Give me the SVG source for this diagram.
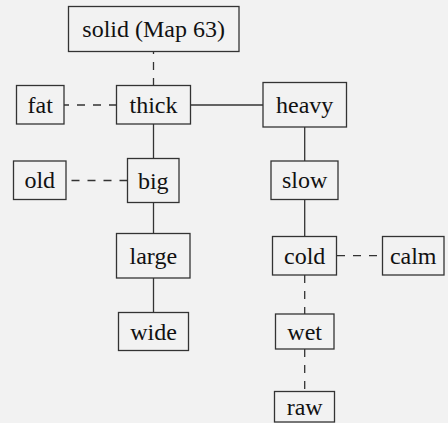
<svg xmlns="http://www.w3.org/2000/svg" width="448" height="423" viewBox="0 0 448 423">
<style>
.n rect{fill:#f2f2f2;stroke:#333;stroke-width:1.3}
.n text{font-family:"Liberation Serif",serif;font-size:24px;fill:#111;text-anchor:middle}
.e line{stroke:#333;stroke-width:1.3}
.e .d{stroke-dasharray:8 8}
</style>
<rect width="448" height="423" fill="#f2f2f2"/>
<g id="edges" class="e">
<line class="d" x1="153.5" y1="86" x2="153.5" y2="52"/>
<line class="d" x1="117" y1="105" x2="64" y2="105"/>
<line x1="190.5" y1="105" x2="263" y2="105"/>
<line x1="153.5" y1="124" x2="153.5" y2="158.5"/>
<line class="d" x1="127.5" y1="180.5" x2="66" y2="180.5"/>
<line x1="153.5" y1="202.5" x2="153.5" y2="233.5"/>
<line x1="153.5" y1="278" x2="153.5" y2="312.5"/>
<line x1="304.7" y1="127" x2="304.7" y2="161"/>
<line x1="304.7" y1="199.5" x2="304.7" y2="236.5"/>
<line class="d" x1="337" y1="255.7" x2="382.5" y2="255.7"/>
<line class="d" x1="304.7" y1="275" x2="304.7" y2="314"/>
<line class="d" x1="304.7" y1="349" x2="304.7" y2="391.5"/>
</g>
<g id="solid" class="n"><rect x="68.5" y="6.5" width="170.5" height="45"/><text x="153.7" y="37">solid (Map 63)</text></g>
<g id="fat" class="n"><rect x="16.5" y="85.5" width="47.5" height="38.5"/><text x="40.2" y="112.8">fat</text></g>
<g id="thick" class="n"><rect x="116.5" y="85.5" width="74" height="38.5"/><text x="153.5" y="112.8">thick</text></g>
<g id="heavy" class="n"><rect x="263" y="82.5" width="83.5" height="44.5"/><text x="304.7" y="112.8">heavy</text></g>
<g id="old" class="n"><rect x="13.5" y="161" width="52.5" height="38.5"/><text x="39.8" y="188.3">old</text></g>
<g id="big" class="n"><rect x="127.5" y="158.5" width="51.5" height="44"/><text x="153.3" y="188.5">big</text></g>
<g id="large" class="n"><rect x="116.5" y="233.5" width="73.5" height="44.5"/><text x="153.3" y="263.8">large</text></g>
<g id="wide" class="n"><rect x="118.5" y="312.5" width="70" height="38"/><text x="153.5" y="339.5">wide</text></g>
<g id="slow" class="n"><rect x="271" y="161" width="67" height="38.5"/><text x="304.7" y="188.3">slow</text></g>
<g id="cold" class="n"><rect x="272.5" y="236.5" width="64" height="38.5"/><text x="304.7" y="263.8">cold</text></g>
<g id="calm" class="n"><rect x="382.5" y="236.5" width="61.5" height="38.5"/><text x="413.2" y="263.8">calm</text></g>
<g id="wet" class="n"><rect x="275.5" y="314" width="58.5" height="35"/><text x="304.7" y="339.5">wet</text></g>
<g id="raw" class="n"><rect x="274.5" y="391.5" width="60" height="30.5"/><text x="304.7" y="414.5">raw</text></g>
</svg>
